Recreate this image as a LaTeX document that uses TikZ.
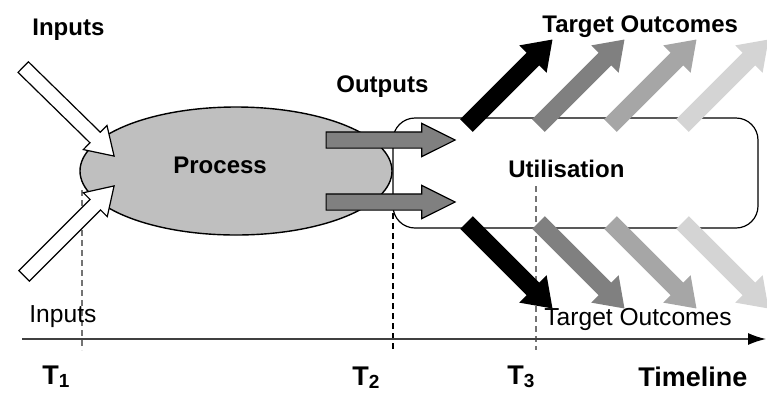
\documentclass[tikz,border=0pt]{standalone}
\usepackage{fontspec}
\newfontfamily\arialfont{Liberation Sans}
\usepackage{tikz}
\usetikzlibrary{calc,positioning,arrows.meta,shapes.geometric,shapes.arrows}
\newcommand{\tsub}[1]{\raisebox{-0.25ex}{\fontsize{9.5}{10}\selectfont #1}}

\begin{document}
\begin{tikzpicture}[x=0.5pt, y=-0.5pt,
        lbl/.style={font=\arialfont\bfseries\fontsize{12}{14}\selectfont, inner sep=0pt, anchor=base west},
        lbllight/.style={lbl, font=\arialfont\fontsize{12.3}{14}\selectfont},
        tlbl/.style={lbl, font=\arialfont\bfseries\fontsize{13.5}{16}\selectfont},
        inarrow/.style={single arrow, draw, line width=0.6pt, fill=white, inner xsep=0pt, inner ysep=3.4pt, text height=0pt, text depth=0pt, single arrow head extend=4.75pt, single arrow tip angle=65, minimum height=63.6pt},
        outarrow/.style={single arrow, draw, line width=0.6pt, fill=black!50, inner xsep=0pt, inner ysep=3.75pt, text height=0pt, text depth=0pt, single arrow head extend=4.25pt, single arrow tip angle=53, minimum height=64.5pt},
        tgtarrow/.style={single arrow, fill=#1, inner xsep=0pt, inner ysep=4.25pt, text height=0pt, text depth=0pt, single arrow head extend=5.25pt, single arrow tip angle=70, minimum height=60.8pt},
        timedash/.style={dash pattern=on 3pt off 2pt, line width=0.6pt, black!55}]
        \useasboundingbox (0,0) rectangle (767,393);

        % utilisation box and process ellipse
        \node [draw, line width=0.6pt, rounded corners=11pt, minimum width=182.5pt, minimum height=55pt, inner sep=0pt] (utilbox) at (575.5,173) {};

        % time marks
        \coordinate (t1top) at (82,190);
        \coordinate (t1bot) at (82,350);
        \coordinate (t2top) at (393,213);
        \coordinate (t2bot) at (393,350);
        \coordinate (t3top) at (536,186);
        \coordinate (t3bot) at (536,350);
        \draw[timedash] (t1top) -- (t1bot);
        \draw[timedash, black, line width=1pt, dash pattern=on 3pt off 2pt] (t2top) -- (t2bot);
        \draw[timedash] (t3top) -- (t3bot);

        \node [ellipse, draw, line width=0.7pt, fill=black!25, minimum width=156pt, minimum height=64pt, inner sep=0pt] (process) at (236,171) {};

        % inputs
        \node [inarrow, rotate=-44.4] (inup) at (64.5,107.5) {};
        \node [inarrow, rotate=45] (indown) at (65,235) {};

        % outputs
        \node [outarrow] (outup) at (382.5,140) {};
        \node [outarrow] (outdown) at (382.5,202) {};

        % target outcomes
        \node [tgtarrow=black, rotate=45] (tgtup1) at (505,87) {};
        \node [tgtarrow=black!50, rotate=45] (tgtup2) at (577,87) {};
        \node [tgtarrow=black!35, rotate=45] (tgtup3) at (649,87) {};
        \node [tgtarrow=black!17, rotate=45] (tgtup4) at (721,87) {};
        \node [tgtarrow=black, rotate=-45] (tgtdown1) at (505,261) {};
        \node [tgtarrow=black!50, rotate=-45] (tgtdown2) at (577,261) {};
        \node [tgtarrow=black!35, rotate=-45] (tgtdown3) at (649,261) {};
        \node [tgtarrow=black!17, rotate=-45] (tgtdown4) at (721,261) {};

        % timeline
        \coordinate (axstart) at (22,339);
        \coordinate (axend) at (766,339);
        \draw[line width=0.7pt, black!75, -{Latex[length=9pt, width=6pt, black]}] (axstart) -- (axend);

        % labels
        \node [lbl] (inputstop) at (32,35) {Inputs};
        \node [lbl] (outputs) at (336,92) {Outputs};
        \node [lbl] (proclbl) at (173,173) {Process};
        \node [lbl] (utillbl) at (508,177) {Utilisation};
        \node [lbl] (tgttop) at (542,32) {Target Outcomes};
        \node [lbllight] (inputsbot) at (29,322) {Inputs};
        \node [lbllight] (tgtbot) at (544,325) {Target Outcomes};
        \node [tlbl] (tone) at (42,384) {T\tsub{1}};
        \node [tlbl] (ttwo) at (352,385) {T\tsub{2}};
        \node [tlbl] (tthree) at (507,384) {T\tsub{3}};
        \node [tlbl] (timeline) at (638,386) {Timeline};
    \end{tikzpicture}
\end{document}
